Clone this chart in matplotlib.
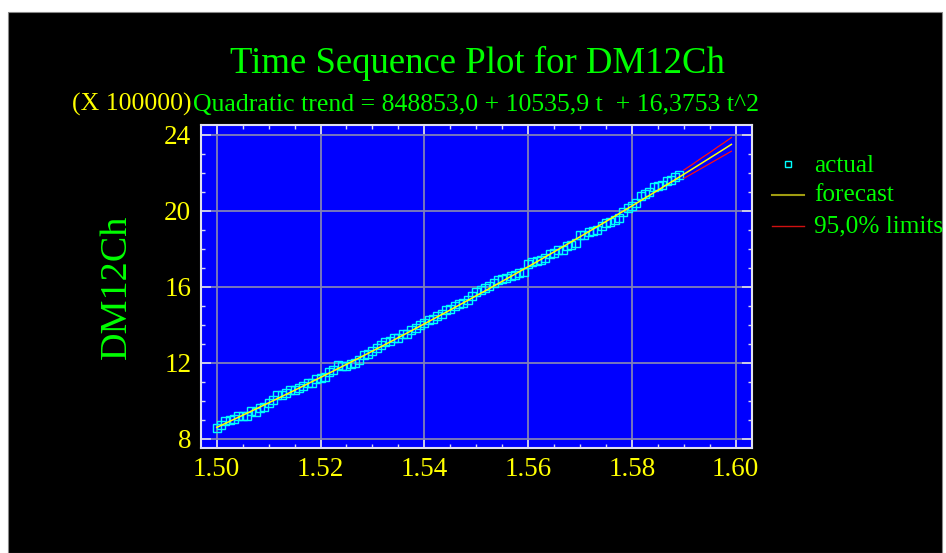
import numpy as np
import matplotlib
matplotlib.use("Agg")
import matplotlib.pyplot as plt
from matplotlib.patches import Rectangle
from matplotlib.lines import Line2D
from matplotlib.ticker import MultipleLocator, FormatStrFormatter

plt.rcParams['font.family'] = ['Liberation Serif', 'DejaVu Serif']

# ---- data (units of 100000) ----
start_x = 1.50          # time axis start (x 1000)
step_x = 1.0 / 1200.0   # monthly step

actual = [8.56, 8.70, 8.93, 8.96, 9.02, 9.21, 9.17, 9.20, 9.45, 9.42,
          9.62, 9.68, 9.89, 10.02, 10.31, 10.30, 10.43, 10.56, 10.55, 10.66,
          10.79, 10.93, 10.95, 11.15, 11.22, 11.24, 11.53, 11.59, 11.86, 11.82,
          11.83, 11.91, 12.00, 12.16, 12.38, 12.44, 12.63, 12.78, 12.95, 13.08,
          13.13, 13.28, 13.32, 13.49, 13.51, 13.74, 13.80, 14.00, 14.08, 14.27,
          14.31, 14.47, 14.58, 14.76, 14.84, 14.98, 15.08, 15.13, 15.32, 15.50,
          15.71, 15.85, 15.94, 16.02, 16.17, 16.34, 16.40, 16.46, 16.54, 16.59,
          16.72, 16.80, 17.20, 17.30, 17.36, 17.38, 17.53, 17.70, 17.78, 17.92,
          17.95, 18.16, 18.18, 18.31, 18.71, 18.71, 18.86, 18.95, 18.98, 19.22,
          19.33, 19.42, 19.52, 19.64, 19.93, 20.15, 20.25, 20.41, 20.78, 20.88,
          21.00, 21.24, 21.30, 21.37, 21.56, 21.60, 21.78, 21.88]

forecast = [8.594, 8.700, 8.806, 8.913, 9.019, 9.127, 9.234, 9.342, 9.450, 9.558,
            9.667, 9.776, 9.886, 9.996, 10.106, 10.216, 10.327, 10.438, 10.549, 10.661,
            10.773, 10.886, 10.998, 11.111, 11.225, 11.339, 11.453, 11.567, 11.682, 11.797,
            11.912, 12.028, 12.144, 12.260, 12.377, 12.494, 12.611, 12.729, 12.847, 12.965,
            13.084, 13.202, 13.322, 13.441, 13.561, 13.682, 13.802, 13.923, 14.044, 14.166,
            14.288, 14.410, 14.533, 14.655, 14.779, 14.902, 15.026, 15.150, 15.275, 15.400,
            15.525, 15.650, 15.776, 15.902, 16.029, 16.156, 16.283, 16.410, 16.538, 16.666,
            16.795, 16.923, 17.052, 17.182, 17.312, 17.442, 17.572, 17.703, 17.834, 17.965,
            18.097, 18.229, 18.361, 18.494, 18.627, 18.761, 18.894, 19.028, 19.163, 19.297,
            19.432, 19.568, 19.703, 19.839, 19.976, 20.112, 20.249, 20.386, 20.524, 20.662,
            20.800, 20.939, 21.078, 21.217, 21.357, 21.497, 21.637, 21.777, 21.918, 22.059,
            22.201, 22.343, 22.485, 22.628, 22.770, 22.914, 23.057, 23.201, 23.345, 23.490]

upper = [22.14, 22.29, 22.44, 22.60, 22.76, 22.91, 23.06, 23.22, 23.38, 23.53, 23.69, 23.85]
lower = [21.70, 21.83, 21.96, 22.09, 22.22, 22.35, 22.48, 22.61, 22.74, 22.87, 23.00, 23.13]

x_ticks = [1.50, 1.52, 1.54, 1.56, 1.58, 1.60]
y_ticks = [8, 12, 16, 20, 24]

title = "Time Sequence Plot for DM12Ch"
scale_text = "(X 100000)"
trend_text = "Quadratic trend = 848853,0 + 10535,9 t  + 16,3753 t^2"
ylabel = "DM12Ch"
legend_labels = ["actual", "forecast", "95,0% limits"]

# ---- colours ----
GREEN = '#00ff00'
YELLOW = '#ffff00'
CYAN = '#00ffff'
BLUE = '#0000ff'
RED = '#ff1010'

W, H = 946, 553
def fx(px):
    return px / W
def fy(py):
    return 1 - py / H

fig = plt.figure(figsize=(W / 100, H / 100), dpi=100, facecolor='white')
fig.patches.append(Rectangle((fx(8), 0), fx(942) - fx(8), fy(12), transform=fig.transFigure,
                             facecolor='black', edgecolor='#888888', lw=0.8, zorder=-10))

ax = fig.add_axes([fx(201), fy(447.7), fx(751.7) - fx(201), fy(125.3) - fy(447.7)])
ax.set_facecolor(BLUE)

xa = start_x + step_x * np.arange(len(actual))
xf = start_x + step_x * np.arange(len(forecast))
xl = xf[len(forecast) - len(upper):]

ax.plot(xa, actual, linestyle='none', marker='s', mfc='none', mec=CYAN, ms=5.4, mew=1.0, zorder=3)
ax.plot(xf, forecast, color=YELLOW, lw=1.1, zorder=4)
ax.plot(xl, upper, color=RED, lw=0.9, zorder=4)
ax.plot(xl, lower, color=RED, lw=0.9, zorder=4)

ax.set_xlim(1.49697, 1.60308)
ax.set_ylim(7.526, 24.495)
ax.set_xticks(x_ticks)
ax.set_yticks(y_ticks)
ax.xaxis.set_minor_locator(MultipleLocator(0.005))
ax.yaxis.set_minor_locator(MultipleLocator(1))
ax.xaxis.set_major_formatter(FormatStrFormatter('%.2f'))
ax.yaxis.set_major_formatter(FormatStrFormatter('%d'))
ax.grid(True, which='major', color='#8080b8', lw=1.3, zorder=1)
ax.set_axisbelow(True)

ax.tick_params(which='both', direction='in', top=True, right=True, colors='#d8d8f0',
               labelcolor=YELLOW, labelsize=19.5)
ax.tick_params(which='major', length=7, width=1.2)
ax.tick_params(which='minor', length=3, width=1.0)
ax.tick_params(axis='y', which='major', pad=7)
ax.tick_params(axis='x', which='major', pad=7)
for s in ax.spines.values():
    s.set_color('#e0e0f0')
    s.set_linewidth(1.5)

# ---- texts ----
fig.text(fx(477), fy(73), title, color=GREEN, fontsize=26.5, ha='center', va='baseline')
fig.text(fx(72), fy(111), scale_text, color=YELLOW, fontsize=18.5, ha='left', va='baseline')
fig.text(fx(193), fy(111), trend_text, color=GREEN, fontsize=18.5, ha='left', va='baseline')
fig.text(fx(117), fy(286.5), ylabel, color=GREEN, fontsize=27.5, rotation=90, ha='center', va='center')

# ---- legend ----
fig.add_artist(Line2D([fx(788)], [fy(164)], marker='s', mfc='none', mec=CYAN, ms=3.8, mew=1.0,
                      linestyle='none', transform=fig.transFigure))
fig.add_artist(Line2D([fx(772), fx(804)], [fy(195), fy(195)], color='#a09c10', lw=1.5,
                      transform=fig.transFigure))
fig.add_artist(Line2D([fx(772), fx(804)], [fy(225.5), fy(225.5)], color='#d01010', lw=1.0,
                      transform=fig.transFigure))
for lab, yb in zip(legend_labels, [171.7, 201, 232.7]):
    fig.text(fx(814), fy(yb), lab, color=GREEN, fontsize=18.2, ha='left', va='baseline')

fig.savefig('out.png', dpi=100, facecolor=fig.get_facecolor())
